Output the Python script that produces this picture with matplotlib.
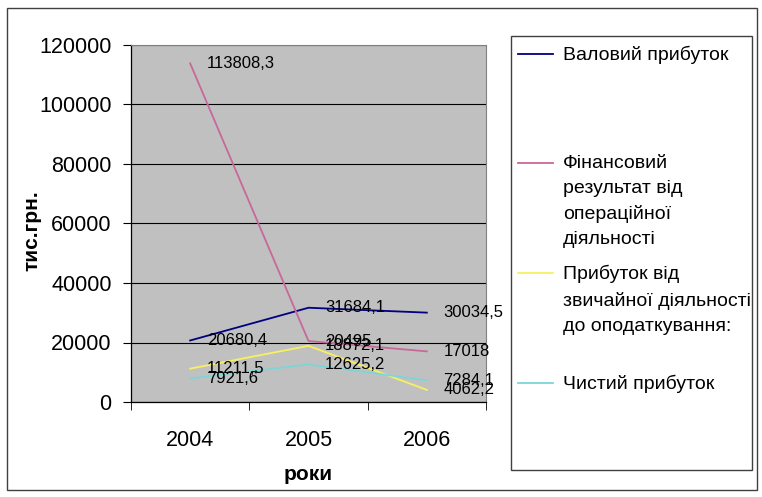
import matplotlib
matplotlib.use('Agg')
import matplotlib.pyplot as plt
from matplotlib.lines import Line2D
from matplotlib.patches import Rectangle

plt.rcParams['font.family'] = ['Liberation Sans', 'DejaVu Sans']

# роки та показники, тис. грн.
years = ['2004', '2005', '2006']
gross_profit = [20680.4, 31684.1, 30034.5]
operating_result = [113808.3, 20495.0, 17018.0]
pretax_profit = [11211.5, 18872.1, 4062.2]
net_profit = [7921.6, 12625.2, 7284.1]

series_names = ['Валовий прибуток',
                'Фінансовий\nрезультат від\nопераційної\nдіяльності',
                'Прибуток від\nзвичайної діяльності\nдо оподаткування:',
                'Чистий прибуток']
series_data = [gross_profit, operating_result, pretax_profit, net_profit]
series_colors = ['#000080', '#C8689A', '#F8F060', '#7CD6D8']

W, H = 762, 497
fig = plt.figure(figsize=(W / 100, H / 100), dpi=100)
fig.patch.set_facecolor('white')

# рамка навколо всієї діаграми
fig.add_artist(Rectangle((7 / W, 1 - 490 / H), 750 / W, 482 / H,
                         transform=fig.transFigure, fill=False,
                         edgecolor='#404040', linewidth=1.0))

ax = fig.add_axes([131 / W, 1 - 402 / H, 355 / W, 357 / H])
ax.set_facecolor('#C0C0C0')

x = list(range(len(years)))
for data, color in zip(series_data, series_colors):
    ax.plot(x, data, color=color, linewidth=1.3, zorder=3)
    for xi, v in zip(x, data):
        s = '%.1f' % v
        if s.endswith('.0'):
            s = s[:-2]
        ax.annotate(s.replace('.', ','), (xi, v), xytext=(12, 0),
                    textcoords='offset points', va='center', ha='left',
                    fontsize=12, color='black', zorder=4,
                    annotation_clip=False)

ax.set_xlim(-0.5, 2.5)
ax.set_ylim(0, 120000)
ax.set_yticks(range(0, 120001, 20000))
ax.set_yticklabels([str(v) for v in range(0, 120001, 20000)], fontsize=15.5)
ax.yaxis.grid(True, color='black', linewidth=0.8)
ax.set_axisbelow(True)

ax.set_xticks(x)
ax.set_xticklabels(years, fontsize=15.5)
ax.set_xticks([-0.5, 0.5, 1.5, 2.5], minor=True)
ax.tick_params(axis='x', which='major', length=0, pad=20)
ax.tick_params(axis='x', which='minor', length=6, direction='out', color='black')
ax.tick_params(axis='y', length=6, direction='out', color='black', pad=8)

for side in ['top', 'right']:
    ax.spines[side].set_color('#808080')
    ax.spines[side].set_linewidth(0.8)
for side in ['left', 'bottom']:
    ax.spines[side].set_color('black')
    ax.spines[side].set_linewidth(0.9)

ax.set_xlabel('роки', fontsize=15, fontweight='bold', labelpad=10)
ax.set_ylabel('тис.грн.', fontsize=15, fontweight='bold', labelpad=-2)
ax.yaxis.label.set_y(0.48)

# легенда
fig.add_artist(Rectangle((511 / W, 1 - 470 / H), 241 / W, 434 / H,
                         transform=fig.transFigure, fill=False,
                         edgecolor='#404040', linewidth=1.0))
first_line_y = [54, 163, 273, 383]
for name, color, yy in zip(series_names, series_colors, first_line_y):
    fig.add_artist(Line2D([518 / W, 553 / W], [1 - yy / H, 1 - yy / H],
                          transform=fig.transFigure, color=color, linewidth=1.3))
    fig.text(563 / W, 1 - (yy - 8) / H, name, fontsize=14, va='top',
             ha='left', linespacing=1.6)

fig.savefig('out.png', dpi=100)
